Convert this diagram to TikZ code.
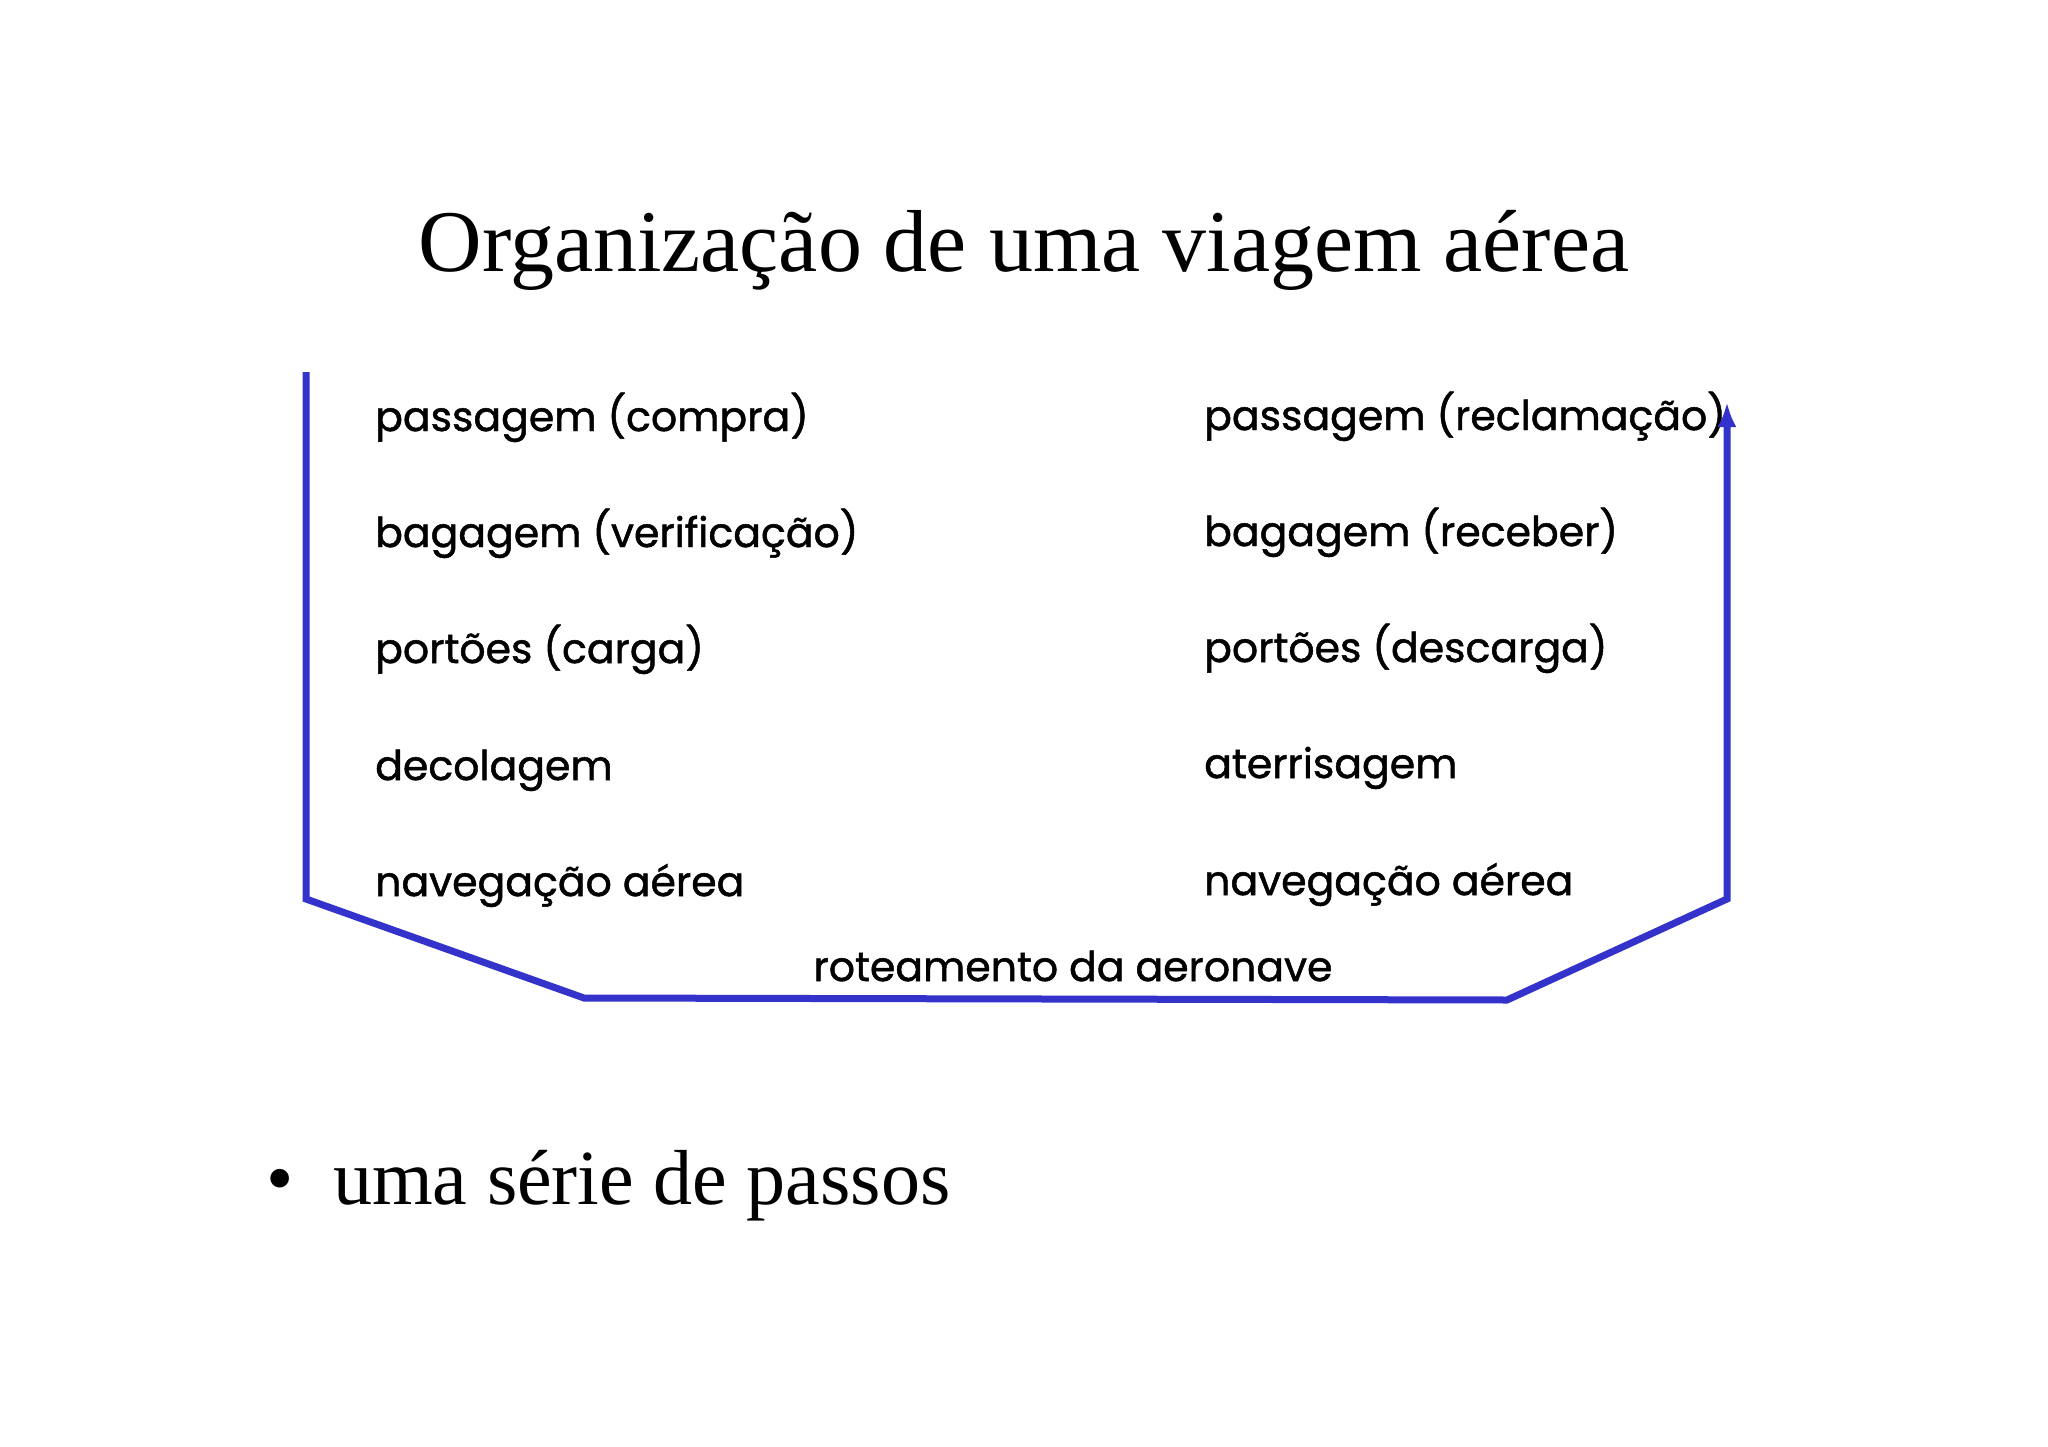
\documentclass[tikz,border=0pt]{standalone}
\usepackage{fontspec}
\setmainfont{Liberation Serif}
\newfontfamily\comicf[FakeBold=1.2]{Poppins}
\usetikzlibrary{arrows.meta}
\definecolor{lineblue}{RGB}{51,51,204}
\tikzset{
  item/.style={anchor=base west, inner sep=0pt, font=\comicf\fontsize{41}{49}\selectfont},
  route/.style={line width=7pt, draw=lineblue, line join=miter},
}
\begin{document}
\begin{tikzpicture}[x=1pt,y=-1pt]
\useasboundingbox (0,0) rectangle (2048,1447);
\node[anchor=base, inner sep=0pt, font=\fontsize{88}{100}\selectfont] (title) at (1024,272) {Organização de uma viagem aérea};
% left column
\node[item] (l1) at (375,431) {passagem (compra)};
\node[item] (l2) at (375,547) {bagagem (verificação)};
\node[item] (l3) at (375,663) {portões (carga)};
\node[item] (l4) at (375,780) {decolagem};
\node[item] (l5) at (375,896) {navegação aérea};
% right column
\node[item] (r1) at (1204,430) {passagem (reclamação)};
\node[item] (r2) at (1204,546) {bagagem (receber)};
\node[item] (r3) at (1204,662) {portões (descarga)};
\node[item] (r4) at (1204,778) {aterrisagem};
\node[item] (r5) at (1204,895) {navegação aérea};
\node[anchor=base, inner sep=0pt, font=\comicf\fontsize{41}{49}\selectfont] (route) at (1073,981) {roteamento da aeronave};
% path
\coordinate (p1) at (306,372);
\coordinate (p2) at (306,899);
\coordinate (p3) at (584,998);
\coordinate (p4) at (1507,1000);
\coordinate (p5) at (1727,899);
\coordinate (p6) at (1727,402);
\draw[route, -{Latex[length=25pt,width=19pt]}] (p1) -- (p2) -- (p3) -- (p4) -- (p5) -- (p6);
% bullet
\node[anchor=base, inner sep=0pt, font=\fontsize{78}{90}\selectfont] (bul) at (280,1204) {•};
\node[anchor=base west, inner sep=0pt, font=\fontsize{78}{90}\selectfont] (steps) at (333,1204) {uma série de passos};
\end{tikzpicture}
\end{document}
